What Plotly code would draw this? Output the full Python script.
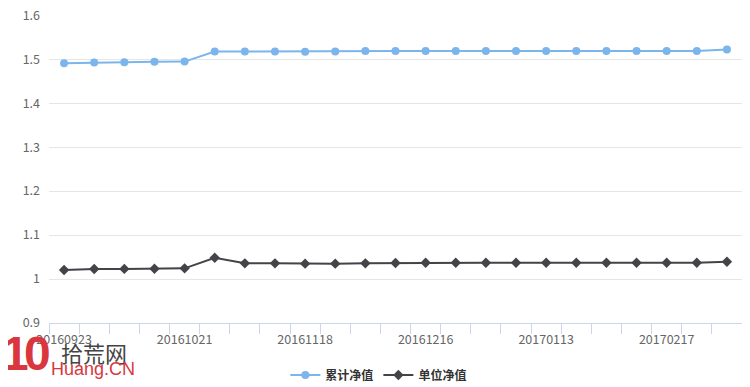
import plotly.graph_objects as go

dates = ["20160923", "20160930", "20161014", "20161014b", "20161021", "20161028", "20161104",
         "20161111", "20161118", "20161125", "20161202", "20161209", "20161216", "20161223",
         "20161230", "20170106", "20170113", "20170120", "20170126", "20170210", "20170217",
         "20170224", "20170303"]
cum_nav = [1.4909, 1.4923, 1.4932, 1.4939, 1.4945, 1.5173, 1.5173, 1.5173, 1.5170, 1.5175,
           1.5185, 1.5185, 1.5189, 1.5186, 1.5189, 1.5189, 1.5189, 1.5189, 1.5189, 1.5189,
           1.5189, 1.5189, 1.5218]
unit_nav = [1.0205, 1.0228, 1.0230, 1.0234, 1.0243, 1.0485, 1.0357, 1.0357, 1.0350, 1.0350,
            1.0357, 1.0364, 1.0371, 1.0371, 1.0371, 1.0371, 1.0371, 1.0371, 1.0371, 1.0371,
            1.0371, 1.0371, 1.0394]
y_ticks = [0.9, 1.0, 1.1, 1.2, 1.3, 1.4, 1.5, 1.6]
y_tick_text = ["0.9", "1", "1.1", "1.2", "1.3", "1.4", "1.5", "1.6"]
series_names = ["累计净值", "单位净值"]
label_every = 4

idx = list(range(len(dates)))
tick_idx = idx[::label_every]
tick_text = [dates[i][:8] for i in tick_idx]

font_family = "Noto Sans CJK SC, Noto Sans, sans-serif"

fig = go.Figure()
fig.add_trace(go.Scatter(
    x=idx, y=cum_nav, name=series_names[0], mode="lines+markers",
    line=dict(color="#7cb5ec", width=2),
    marker=dict(symbol="circle", size=8, color="#7cb5ec"),
))
fig.add_trace(go.Scatter(
    x=idx, y=unit_nav, name=series_names[1], mode="lines+markers",
    line=dict(color="#434348", width=2),
    marker=dict(symbol="diamond", size=8, color="#434348"),
))

# page body has an 8px margin, so the figure is sized / offset to compensate
fig.update_layout(
    width=742, height=379,
    margin=dict(l=41, r=8, t=7, b=64, autoexpand=False),
    paper_bgcolor="white", plot_bgcolor="white",
    font=dict(family=font_family, size=12, color="#666666"),
    showlegend=True,
    legend=dict(orientation="h", x=0.476, xanchor="center", y=-0.169, yanchor="middle",
                font=dict(size=12, color="#333333", weight="bold"),
                itemwidth=30, tracegroupgap=0),
    xaxis=dict(
        range=[-0.5, len(dates) - 0.5], tickvals=tick_idx, ticktext=tick_text,
        ticks="", showgrid=False, zeroline=False, automargin=False,
        showline=True, linecolor="#ccd6eb", linewidth=1,
        tickfont=dict(size=12.5, color="#666666"), ticklabelstandoff=5,
        ticklabeloverflow="allow",
        minor=dict(ticks="outside", tick0=-0.5, dtick=1, ticklen=10,
                   tickcolor="#ccd6eb", showgrid=False),
    ),
    yaxis=dict(
        range=[0.9, 1.6005], tickvals=y_ticks, ticktext=y_tick_text,
        showgrid=True, gridcolor="#e6e6e6",
        gridwidth=1, zeroline=False, showline=False, ticks="", automargin=False,
        tickfont=dict(size=12.5, color="#666666"), ticklabelstandoff=8,
        ticklabeloverflow="allow",
    ),
)

# watermark
wm_red = "#d9363e"
fig.add_annotation(xref="paper", yref="paper", x=-0.071, y=-0.10, xanchor="left", yanchor="middle",
                   text="<b>1</b>", showarrow=False,
                   font=dict(size=48, color=wm_red, family="Liberation Sans"))
fig.add_annotation(xref="paper", yref="paper", x=-0.039, y=-0.10, xanchor="left", yanchor="middle",
                   text="<b>0</b>", showarrow=False,
                   font=dict(size=48, color=wm_red, family="Liberation Sans"))
fig.add_annotation(xref="paper", yref="paper", x=0.015, y=-0.094, xanchor="left", yanchor="middle",
                   text="拾荒网", showarrow=False,
                   font=dict(size=22, color="#444444", family="Noto Sans CJK SC"))
fig.add_annotation(xref="paper", yref="paper", x=0.0, y=-0.149, xanchor="left", yanchor="middle",
                   text="Huang.CN", showarrow=False,
                   font=dict(size=18, color=wm_red, family="Liberation Sans"))

fig.write_html("out.html")
